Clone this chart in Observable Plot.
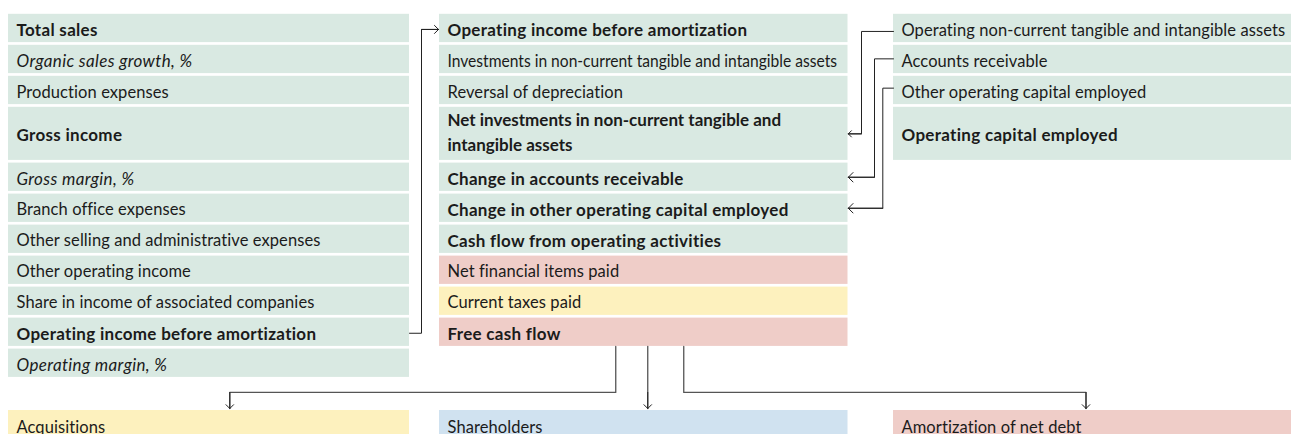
<!DOCTYPE html>
<html>
<head>
<meta charset="utf-8">
<script src="https://cdn.jsdelivr.net/npm/d3@7"></script>
<script src="https://cdn.jsdelivr.net/npm/@observablehq/plot@0.6"></script>
<style>
  html, body { margin: 0; padding: 0; background: #ffffff; }
  #chart svg { display: block; }
</style>
</head>
<body>
<div id="chart"></div>
<script>
// ---------------- data ----------------
const incomeLabels = [
  "Total sales",
  "Organic sales growth, %",
  "Production expenses",
  "Gross income",
  "Gross margin, %",
  "Branch office expenses",
  "Other selling and administrative expenses",
  "Other operating income",
  "Share in income of associated companies",
  "Operating income before amortization",
  "Operating margin, %"
];
const incomeKinds = ["total", "ratio", "item", "total", "ratio", "item", "item", "item", "item", "total", "ratio"];

const cashFlowLabels = [
  "Operating income before amortization",
  "Investments in non-current tangible and intangible assets",
  "Reversal of depreciation",
  "Net investments in non-current tangible and\nintangible assets",
  "Change in accounts receivable",
  "Change in other operating capital employed",
  "Cash flow from operating activities",
  "Net financial items paid",
  "Current taxes paid",
  "Free cash flow"
];
const cashFlowKinds = ["total", "item", "item", "total", "total", "total", "total", "item", "item", "total"];
const cashFlowGroups = ["operating", "operating", "operating", "operating", "operating", "operating", "operating", "financing", "taxes", "financing"];

const capitalLabels = [
  "Operating non-current tangible and intangible assets",
  "Accounts receivable",
  "Other operating capital employed",
  "Operating capital employed"
];
const capitalKinds = ["item", "item", "item", "total"];

const destinationLabels = ["Acquisitions", "Shareholders", "Amortization of net debt"];
const destinationGroups = ["taxes", "owners", "financing"];

// flows: [from column, from row, to column, to row]
const flows = [
  ["income", 9, "cashFlow", 0],
  ["capital", 0, "cashFlow", 3],
  ["capital", 1, "cashFlow", 4],
  ["capital", 2, "cashFlow", 5],
  ["cashFlow", 9, "destinations", 0],
  ["cashFlow", 9, "destinations", 1],
  ["cashFlow", 9, "destinations", 2]
];

// ---------------- layout ----------------
const W = 1291, H = 434;
const colX = [{x1: 8, x2: 409}, {x1: 439, x2: 847.5}, {x1: 893, x2: 1291}];
const top0 = 13.8, pitch = 31, gap = 2.7, doubleRow = 3, doubleSize = 1.8;
const destTop = 410;
const groupColors = {
  domain: ["operating", "financing", "taxes", "owners"],
  range: ["#d9e9e2", "#efcdc8", "#fdf1be", "#d0e2f0"]
};
const kindStyle = {
  item:  {fontSize: 16.5, fontWeight: 400, fontStyle: "normal", spacing: 0.08},
  total: {fontSize: 17,   fontWeight: 700, fontStyle: "normal", spacing: 0.3},
  ratio: {fontSize: 17,   fontWeight: 400, fontStyle: "italic", spacing: 0.35}
};

function slotTop(i) { return top0 + pitch * (i <= doubleRow ? i : i + doubleSize - 1); }
function slotSize(i) { return i === doubleRow ? doubleSize : 1; }

function buildColumn(name, ci, labels, kinds, groups) {
  return labels.map((label, i) => {
    const y1 = slotTop(i);
    return {
      column: name, row: i, label, kind: kinds[i], group: groups ? groups[i] : "operating",
      x1: colX[ci].x1, x2: colX[ci].x2, y1, y2: y1 + pitch * slotSize(i) - gap
    };
  });
}

const cells = [
  ...buildColumn("income", 0, incomeLabels, incomeKinds),
  ...buildColumn("cashFlow", 1, cashFlowLabels, cashFlowKinds, cashFlowGroups),
  ...buildColumn("capital", 2, capitalLabels, capitalKinds),
  ...destinationLabels.map((label, i) => ({
    column: "destinations", row: i, label, kind: "item", group: destinationGroups[i],
    x1: colX[i].x1, x2: colX[i].x2, y1: destTop, y2: destTop + pitch
  }))
];
const cell = (c, r) => cells.find(d => d.column === c && d.row === r);
const cy = d => (d.y1 + d.y2) / 2;

// connector routing
const sideElbows = [{dx: -32, dy: 3}, {dx: -19, dy: -0.6}, {dx: -10.7, dy: -2.3}];
const downStarts = [-28, 4, 40];     // relative to source column centre
const downTargets = [20.8, 4, -6.5]; // relative to destination column centre
const paths = flows.map(([fc, fr, tc, tr], k) => {
  const a = cell(fc, fr), b = cell(tc, tr);
  let pts;
  if (fc === "income") {
    const xe = a.x2 + 12;
    pts = [[a.x2, cy(a) + 1], [xe, cy(a) + 1], [xe, cy(b) + 1], [b.x1 - 1, cy(b) + 1]];
  } else if (fc === "capital") {
    const e = sideElbows[fr];
    const xe = a.x1 + e.dx, ys = cy(a) + e.dy;
    pts = [[a.x1, ys], [xe, ys], [xe, cy(b)], [b.x2 + 0.3, cy(b)]];
  } else {
    const sx = (a.x1 + a.x2) / 2 + downStarts[tr];
    const tx = (b.x1 + b.x2) / 2 + downTargets[tr];
    const ye = a.y2 + 46;
    pts = [[sx, a.y2], [sx, ye], [tx, ye], [tx, b.y1 - 2]];
  }
  return pts.map(([x, y], j) => ({id: k, j, x, y, down: fc === "cashFlow"}));
});
const linePoints = paths.flat();
const arrowSegs = paths.map(p => {
  const n = p.length;
  return {x1: p[n - 2].x, y1: p[n - 2].y, x2: p[n - 1].x, y2: p[n - 1].y};
});

const FONT = "Lato, 'Open Sans', sans-serif";
const textMark = kind => {
  const s = kindStyle[kind];
  return Plot.text(cells.filter(d => d.kind === kind), {
    x: d => d.x1 + 8,
    y: d => cy(d) - (d.label.includes("\n") ? 2.5 : 0),
    text: "label",
    textAnchor: "start",
    lineAnchor: "middle",
    lineHeight: 1.45,
    fontSize: s.fontSize,
    fontWeight: s.fontWeight,
    fontStyle: s.fontStyle,
    dy: -0.5,
    fill: "#1b1b1b"
  });
};

const chart = Plot.plot({
  width: W,
  height: H,
  margin: 0,
  x: {domain: [0, W], range: [0, W], axis: null},
  y: {domain: [0, H], range: [0, H], axis: null},
  color: groupColors,
  style: {fontFamily: FONT, background: "#ffffff", overflow: "hidden"},
  marks: [
    Plot.rect(cells, {x1: "x1", x2: "x2", y1: "y1", y2: "y2", fill: "group"}),
    textMark("item"),
    textMark("total"),
    textMark("ratio"),
    Plot.line(linePoints.filter(d => !d.down), {x: "x", y: "y", z: "id", stroke: "#222", strokeWidth: 1, curve: "linear"}),
    Plot.line(linePoints.filter(d => d.down), {x: "x", y: "y", z: "id", stroke: "#555", strokeWidth: 1.3, curve: "linear"}),
    Plot.arrow(arrowSegs, {x1: "x1", y1: "y1", x2: "x2", y2: "y2", stroke: "#222", strokeWidth: 1, headAngle: 90, headLength: 10})
  ]
});
document.getElementById("chart").appendChild(chart);

// letter spacing per kind; squeeze any label that would overflow its box
d3.select(chart).selectAll("text").each(function () {
  const t = this;
  const c = cells.find(d => d.label === t.textContent || d.label.split("\n").includes(t.textContent));
  if (!c) return;
  t.setAttribute("letter-spacing", kindStyle[c.kind].spacing);
  const len = t.getComputedTextLength();
  const inner = (c.x2 - c.x1);
  if (len > inner - 11) {
    t.setAttribute("letter-spacing", 0);
    t.setAttribute("textLength", inner - 19);
    t.setAttribute("lengthAdjust", "spacingAndGlyphs");
  }
});
</script>
</body>
</html>
